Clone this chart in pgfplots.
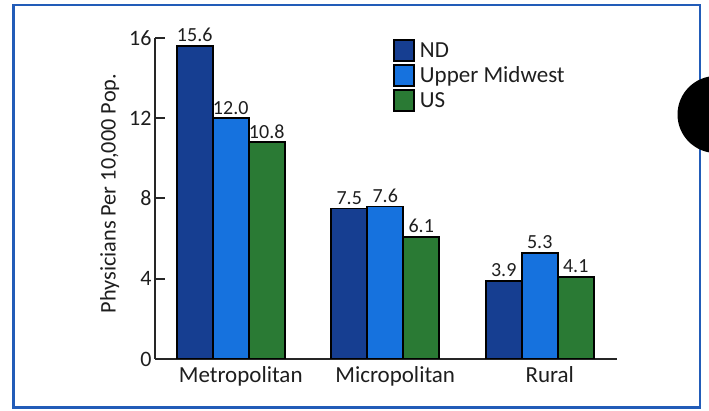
\documentclass[border=0pt]{standalone}
\usepackage{pgfplots}
\pgfplotsset{compat=1.18}
\usepackage{fontspec}
\setmainfont{Carlito}
\definecolor{ndblue}{RGB}{22,62,145}
\definecolor{umblue}{RGB}{22,114,222}
\definecolor{usgreen}{RGB}{42,122,52}
\definecolor{framec}{RGB}{34,92,184}
\definecolor{txt}{RGB}{30,30,30}

\begin{document}
\begin{tikzpicture}[x=1pt,y=1pt]
\useasboundingbox (0,0) rectangle (709,411);
\begin{scope}
  \clip (0,0) rectangle (709,411);
  \draw[framec, line width=2.4pt] (13.5,3.5) rectangle (700,406);
  \fill[black] (716,296.5) circle (38.5);
\end{scope}
\begin{axis}[
  at={(155pt,52pt)}, anchor=south west,
  scale only axis, width=462pt, height=321pt,
  ybar=0pt, bar width=36pt,
  xmin=-0.49, xmax=2.5, ymin=0, ymax=16,
  xtick=data, xticklabels={Metropolitan,Micropolitan,Rural},
  ytick={0,4,8,12,16},
  axis x line=bottom, axis y line=left,
  axis line style={-, line width=2pt, black!85},
  x tick style={draw=none},
  y tick style={line width=2pt, black!85},
  major tick length=10pt, tick align=inside,
  /pgf/number format/assume math mode=true,
  yticklabel style={font=\fontsize{22}{26}\selectfont, text=txt, xshift=0pt},
  xticklabel style={font=\fontsize{23}{27}\selectfont, text=txt,
    xshift=10pt, yshift=-4pt},
  ylabel={Physicians Per 10,000 Pop.},
  ylabel style={font=\fontsize{22.3}{26}\selectfont, text=txt,
    at={(axis description cs:-0.098,0.515)}, anchor=center},
  nodes near coords,
  nodes near coords style={font=\fontsize{20}{24}\selectfont, text=txt,
    inner sep=0pt, yshift=3pt, anchor=south,
    /pgf/number format/fixed, /pgf/number format/fixed zerofill,
    /pgf/number format/precision=1,
    /pgf/number format/assume math mode=true},
  legend style={at={(rel axis cs:0.515,0.997)}, anchor=north west,
    draw=none, fill=none, inner sep=0pt, row sep=2.5pt,
    font=\fontsize{23}{26}\selectfont, text=txt,
    nodes={inner sep=1pt, anchor=west}},
  legend cell align=left,
  legend image code/.code={%
    \draw[#1, draw=black, line width=1.6pt] (0pt,-10.5pt) rectangle (20pt,10.5pt);
    \path[draw=none, fill=none] (0pt,0pt) -- (25pt,0pt);},
]
\addplot[fill=ndblue, draw=black, line width=1.8pt] coordinates {(0,15.6) (1,7.5) (2,3.9)};
\addplot[fill=umblue, draw=black, line width=1.8pt] coordinates {(0,12.0) (1,7.6) (2,5.3)};
\addplot[fill=usgreen, draw=black, line width=1.8pt] coordinates {(0,10.8) (1,6.1) (2,4.1)};
\legend{ND,Upper Midwest,US}
\end{axis}
\end{tikzpicture}
\end{document}
